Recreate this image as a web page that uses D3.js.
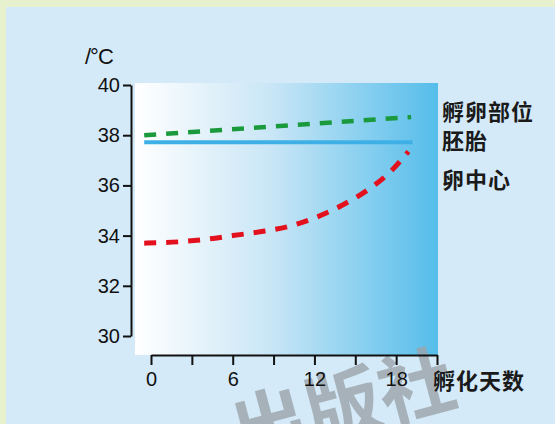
<!DOCTYPE html>
<html>
<head>
<meta charset="utf-8">
<script src="https://cdn.jsdelivr.net/npm/d3@7/dist/d3.min.js"></script>
<style>
  body { margin: 0; }
  svg { display: block; }
</style>
</head>
<body>
<svg id="chart"></svg>
<script>
var width = 555,
    height = 424

// values
var days = [0, 3, 6, 9, 12, 15, 18, 21]
var dayLabels = [0, 6, 12, 18]
var tempTicks = [30, 32, 34, 36, 38, 40]

var shellTemp = [[-0.5, 38.0], [19.1, 38.72]]          // 孵卵部位
var embryoTemp = [[-0.5, 37.72], [19.2, 37.72]]        // 胚胎
var centerTemp = [[-0.5, 33.7], [2, 33.75], [4, 33.85], [6, 34.0], [8, 34.15],
                  [10, 34.35], [12, 34.7], [14, 35.2], [16, 35.85], [17.5, 36.5], [18.9, 37.35]]  // 卵中心

var seriesLabels = ["孵卵部位", "胚胎", "卵中心"]

var svg = d3.select("#chart")
    .attr("width", width)
    .attr("height", height)

// background + border
svg.append("rect").attr("width", width).attr("height", height).attr("fill", "#e7f1cd")
svg.append("rect").attr("x", 6).attr("y", 7).attr("width", width - 6).attr("height", height - 7).attr("fill", "#d4eaf8")

var x = d3.scaleLinear().domain([0, 21]).range([151, 437])
var y = d3.scaleLinear().domain([30, 40]).range([336, 85])

var defs = svg.append("defs")
var grad = defs.append("linearGradient").attr("id", "bg").attr("x1", "0%").attr("x2", "100%")
grad.append("stop").attr("offset", "0%").attr("stop-color", "#ffffff")
grad.append("stop").attr("offset", "45%").attr("stop-color", "#c9e6f6")
grad.append("stop").attr("offset", "100%").attr("stop-color", "#55bdea")

svg.append("rect")
    .attr("x", 135)
    .attr("y", 83)
    .attr("width", 303)
    .attr("height", 272)
    .attr("fill", "url(#bg)")

// watermark, cut off at the bottom edge like the original
svg.append("text")
    .attr("transform", "translate(240,462) rotate(-15)")
    .attr("font-family", "Noto Sans CJK SC")
    .attr("font-size", 76)
    .attr("font-weight", "bold")
    .attr("fill", "#9ca4aa")
    .attr("opacity", 0.8)
    .text("出版社")

var line = d3.line()
    .x(function(d) { return x(d[0]) })
    .y(function(d) { return y(d[1]) })

svg.append("path")
    .datum(embryoTemp)
    .attr("d", line)
    .attr("fill", "none")
    .attr("stroke", "#3fb0e6")
    .attr("stroke-width", 4)

svg.append("path")
    .datum(shellTemp)
    .attr("d", line)
    .attr("fill", "none")
    .attr("stroke", "#1a9a3c")
    .attr("stroke-width", 4.5)
    .attr("stroke-dasharray", "12,10")

svg.append("path")
    .datum(centerTemp)
    .attr("d", line.curve(d3.curveMonotoneX))
    .attr("fill", "none")
    .attr("stroke", "#e3101e")
    .attr("stroke-width", 5)
    .attr("stroke-dasharray", "12,10")

// axes
svg.append("g")
    .attr("transform", "translate(131,0)")
    .call(d3.axisLeft(y).tickValues(tempTicks).tickSize(8).tickSizeOuter(0).tickPadding(3))

svg.append("g")
    .attr("transform", "translate(0,355)")
    .call(d3.axisBottom(x).tickValues(days).tickSize(10).tickSizeOuter(0).tickPadding(7)
        .tickFormat(function(d) { return dayLabels.indexOf(d) >= 0 ? d : "" }))

svg.selectAll(".domain, .tick line").attr("stroke", "#111").attr("stroke-width", 2)
svg.selectAll(".tick text")
    .attr("fill", "#111")
    .attr("font-family", "Liberation Sans, Arial, sans-serif")
    .attr("font-size", 20)

// unit label
svg.append("text")
    .attr("x", 85)
    .attr("y", 64)
    .attr("font-family", "Liberation Sans, Arial, sans-serif")
    .attr("font-size", 22)
    .attr("fill", "#111")
    .attr("letter-spacing", -1)
    .text("/°C")

// series labels on the right
var labelY = [120, 149, 188]
svg.selectAll("text.series")
    .data(seriesLabels)
    .enter()
    .append("text")
    .attr("class", "series")
    .attr("x", 442)
    .attr("y", function(d, i) { return labelY[i] })
    .attr("font-family", "Noto Sans CJK SC")
    .attr("font-weight", "bold")
    .attr("font-size", 22)
    .attr("letter-spacing", 1)
    .attr("fill", "#1a1a1a")
    .text(function(d) { return d })

svg.append("text")
    .attr("x", 433)
    .attr("y", 389)
    .attr("font-family", "Noto Sans CJK SC")
    .attr("font-weight", "bold")
    .attr("font-size", 22)
    .attr("letter-spacing", 1)
    .attr("fill", "#1a1a1a")
    .text("孵化天数")
</script>
</body>
</html>
